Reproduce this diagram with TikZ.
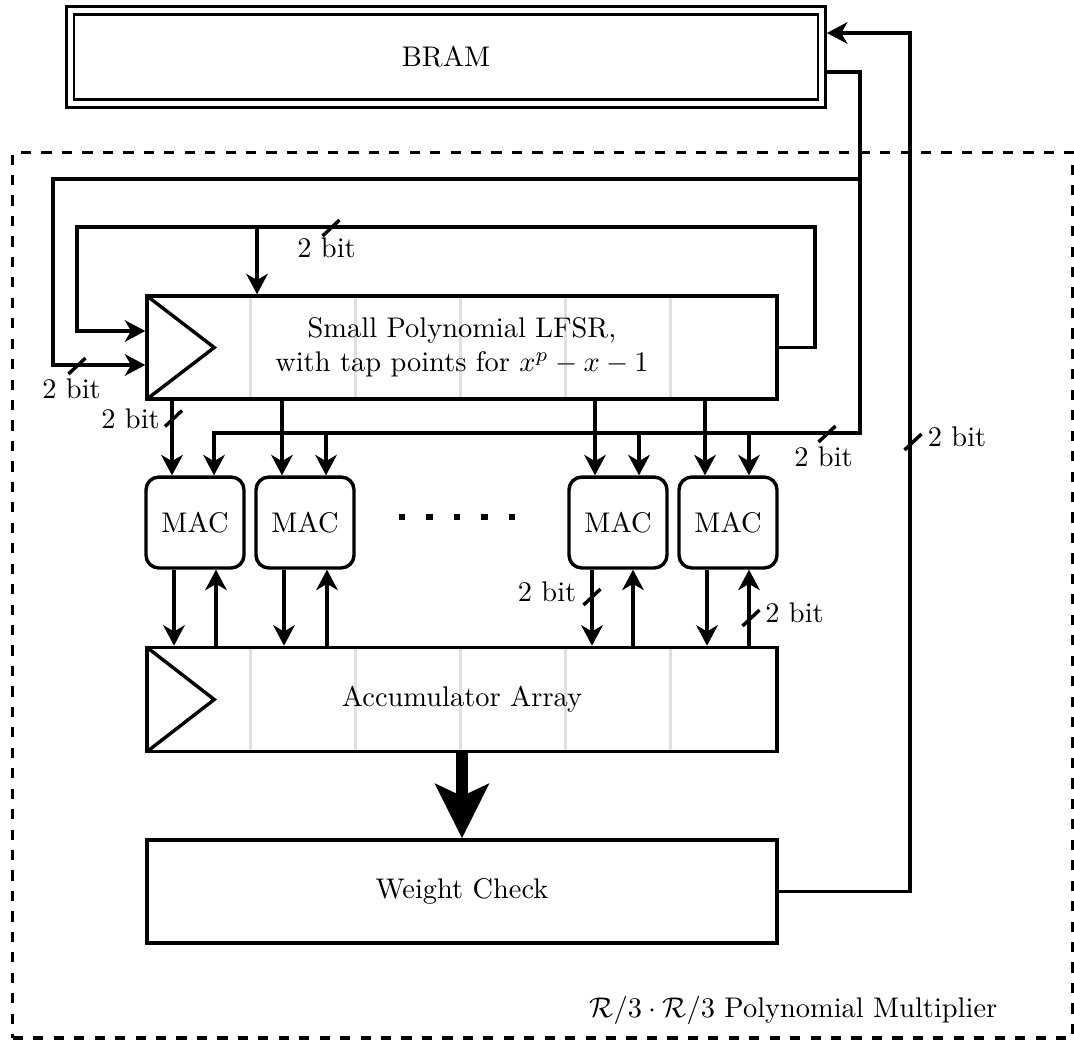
\documentclass[tikz,border=0pt]{standalone}
\usetikzlibrary{arrows.meta,calc,backgrounds}
\begin{document}
\begin{tikzpicture}[x=0.352pt,y=-0.352pt,line width=1.2pt,
  blk/.style={draw,line width=1.2pt,minimum width=221.8pt,minimum height=36.3pt,inner sep=0pt},
  macbox/.style={draw,line width=1.2pt,rounded corners=4.5pt,minimum width=34.5pt,minimum height=32pt,inner sep=0pt},
  arr/.style={-{Stealth[length=7.2pt,width=7.6pt,inset=2.2pt]}},
  bigarr/.style={line width=4.4pt,-{Stealth[length=19pt,width=18.6pt,inset=4.2pt]}},
  cell/.style={draw=black!12,line width=1pt},
  bits/.style={inner sep=0pt},
  tick/.style={line width=1.2pt},
  container/.style={draw,dash pattern=on 3.6pt off 3.6pt,line width=1.2pt,minimum width=373pt,minimum height=311.7pt,inner sep=0pt}]
\useasboundingbox (0,0) rectangle (1074,1039);

% container
\node[container] (mult) at (542.6,595.25) {};
\node[anchor=east,inner sep=0pt] (lab) at (999,1010) {$\mathcal{R}/3\cdot\mathcal{R}/3$ Polynomial Multiplier};

% blocks
\node[draw,double,line width=0.95pt,double distance=1.7pt,minimum width=264.6pt,minimum height=32.7pt,outer sep=1.8pt] (bram) at (446,57) {BRAM};
\node[blk,align=center] (lfsr) at (462,347.5) {Small Polynomial LFSR,\\ with tap points for $x^p-x-1$};
\node[blk,minimum height=36.7pt] (acc) at (462,699.5) {Accumulator Array};
\node[blk] (wc) at (462,891.5) {Weight Check};
\node[macbox] (mac1) at (195,522.5) {MAC};
\node[macbox] (mac2) at (305,522.5) {MAC};
\node[macbox] (mac3) at (618,522.5) {MAC};
\node[macbox] (mac4) at (728,522.5) {MAC};

% register cells and clock triangles
\begin{scope}[on background layer]
  \foreach \b in {lfsr,acc}{
    \foreach \k in {1,...,5}
      \draw[cell] ($(\b.north west)+(105*\k,1.5)$) -- ($(\b.south west)+(105*\k,-1.5)$);
  }
\end{scope}
\foreach \b in {lfsr,acc}
  \draw[line join=miter] ($(\b.north west)+(1.7,1.7)$) -- ($(\b.west)+(69,0)$) -- ($(\b.south west)+(1.7,-1.7)$);

% dots
\foreach \i in {0,...,4}
  \fill (398.7+27.5*\i,513.7) rectangle ++(6.6,6.6);

% junction coordinates
\coordinate (bo) at (860,72);
\coordinate (c1) at (860,179);
\coordinate (c2) at (860,433);
\coordinate (c3) at (53,179);
\coordinate (c4) at (53,365);
\coordinate (i1) at (815,227);
\coordinate (i2) at (77,227);
\coordinate (i3) at (77,331);
\coordinate (i4) at (257,227);
\coordinate (w2) at (910,33);

% MAC connections
\foreach \n/\ta/\tb/\bd/\bu in {1/-23/19/-21/21,2/-23/21/-21/22,3/-23/21/-26/15,4/-23/21/-21/21}{
  \coordinate (ta\n) at ($(mac\n.north)+(\ta,0)$);
  \coordinate (tb\n) at ($(mac\n.north)+(\tb,0)$);
  \coordinate (bd\n) at ($(mac\n.south)+(\bd,0)$);
  \coordinate (bu\n) at ($(mac\n.south)+(\bu,0)$);
  \draw[arr] (ta\n |- lfsr.south) -- (ta\n);
  \draw[arr] (bd\n) -- (bd\n |- acc.north);
  \draw[arr] (bu\n |- acc.north) -- (bu\n);
}
\foreach \n in {2,3,4}
  \draw[arr] (tb\n |- c2) -- (tb\n);

% BRAM output bus
\draw[arr] (bram.east |- bo) -- (bo) -- (c2) -| (tb1);
\draw[arr] (c1) -- (c3) -- (c4) -- (lfsr.west |- c4);

% LFSR feedback
\draw[arr] (lfsr.east) -| (i1) -- (i2) -- (i3) -- (lfsr.west |- i3);
\draw[arr] (i4) -- (i4 |- lfsr.north);

% result path
\draw[bigarr] (acc.south) -- (wc.north);
\draw[arr] (wc.east) -| (w2) -- (bram.east |- w2);

% bus width ticks
\coordinate (s1) at (77,366);
\coordinate (s2) at (331,228);
\coordinate (s3) at (173.5,418.5);
\coordinate (s4) at (827,434);
\coordinate (s5) at (592,597);
\coordinate (s6) at (751,618);
\coordinate (s7) at (913,442);
\foreach \s in {s1,s2,s3,s4,s5,s6,s7}
  \draw[tick] ([shift={(-8.5,8)}]\s) -- ([shift={(8.5,-8)}]\s);

\node[bits] (l1) at (71.5,389) {2 bit};
\node[bits] (l2) at (326.5,248) {2 bit};
\node[bits] (l3) at (130.5,419) {2 bit};
\node[bits] (l4) at (823.5,457) {2 bit};
\node[bits] (l5) at (547,592) {2 bit};
\node[bits] (l6) at (794.5,613) {2 bit};
\node[bits] (l7) at (957,437) {2 bit};
\end{tikzpicture}
\end{document}
